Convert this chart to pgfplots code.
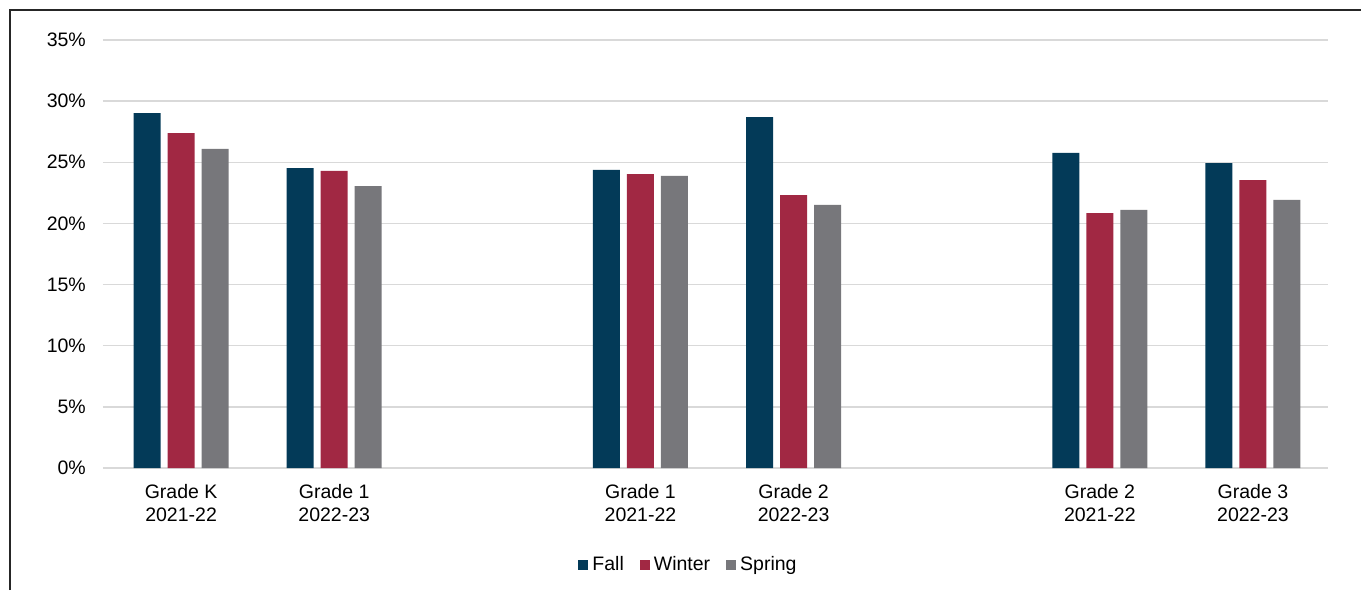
\documentclass[border=0pt]{standalone}
\usepackage{pgfplots}
\pgfplotsset{compat=1.18}
\usepackage{fontspec}
\setmainfont{Liberation Sans}
\definecolor{fallc}{HTML}{033A58}
\definecolor{winterc}{HTML}{A12843}
\definecolor{springc}{HTML}{77777B}
\definecolor{gridc}{HTML}{D9D9D9}
\begin{document}
\fontsize{19.5}{23.5}\selectfont
\begin{tikzpicture}[x=1pt,y=1pt]
\useasboundingbox (0,0) rectangle (1361,590);
\draw[line width=2pt, color=black!85] (9.5,0) -- (9.5,580) -- (1362,580);
\begin{axis}[
  at={(103pt,122pt)}, anchor=south west,
  scale only axis, width=1225pt, height=428pt,
  ybar=7pt, bar width=27pt,
  xmin=-0.51, xmax=7.49, ymin=0, ymax=35,
  xtick={0,1,3,4,6,7},
  xticklabels={{Grade K\\2021-22},{Grade 1\\2022-23},{Grade 1\\2021-22},{Grade 2\\2022-23},{Grade 2\\2021-22},{Grade 3\\2022-23}},
  xticklabel style={align=center, inner sep=0pt, yshift=-16pt, font=\fontsize{19.5}{23.5}\selectfont},
  ytick={0,5,10,15,20,25,30,35},
  yticklabels={0\%,5\%,10\%,15\%,20\%,25\%,30\%,35\%},
  yticklabel style={inner sep=0pt, xshift=-17pt, font=\fontsize{19.5}{23.5}\selectfont},
  major tick length=0pt,
  axis line style={draw=none},
  ymajorgrids, grid style={gridc, line width=1.5pt},
  legend style={at={(0.478,-0.227)}, anchor=center, draw=none, fill=none,
    legend columns=-1, font=\fontsize{19.5}{23.5}\selectfont,
    /tikz/every odd column/.append style={column sep=2pt},
    /tikz/every even column/.append style={column sep=14pt}},
  legend image code/.code={\fill[#1] (0pt,-5pt) rectangle (10pt,5pt);},
]
\addplot[draw=none, fill=fallc] coordinates {(0,29.03) (1,24.53) (3,24.37) (4,28.70) (6,25.76) (7,24.94)};
\addplot[draw=none, fill=winterc] coordinates {(0,27.39) (1,24.29) (3,24.04) (4,22.32) (6,20.85) (7,23.55)};
\addplot[draw=none, fill=springc] coordinates {(0,26.09) (1,23.06) (3,23.88) (4,21.51) (6,21.10) (7,21.92)};
\legend{Fall,Winter,Spring}
\end{axis}
\end{tikzpicture}
\end{document}
